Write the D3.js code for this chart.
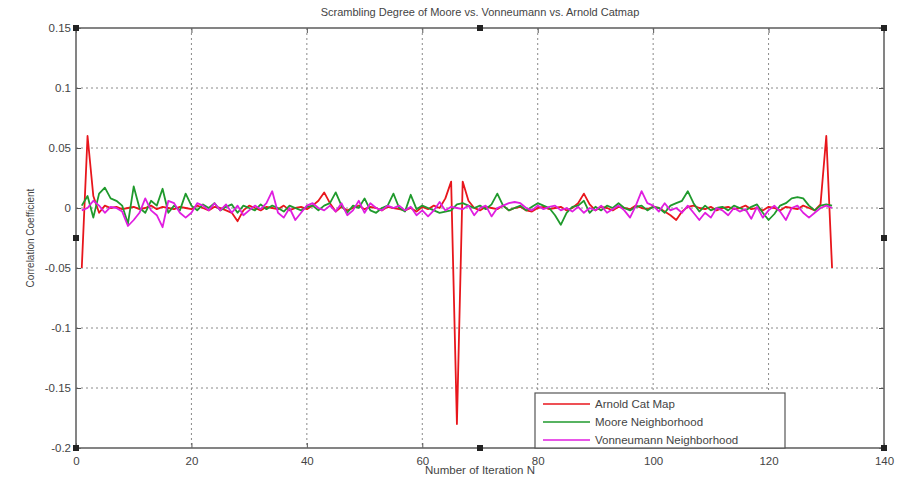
<!DOCTYPE html>
<html lang="en">
<head>
<meta charset="utf-8">
<script src="https://d3js.org/d3.v7.min.js"></script>
<title>Scrambling Degree</title>
<style>
  body { margin: 0; background: #fff; }
  svg text { font-family: "Liberation Sans", Arial, sans-serif; fill: #444; }
</style>
</head>
<body>
<div id="chart"></div>
<script>
// iteration numbers 1..131
const iterations = d3.range(1, 132);

const arnold = [
  -0.05, 0.06, 0.01, -0.004, 0.002, 0.0, 0.001, -0.001, 0.0, 0.001,
  -0.001, 0.0, 0.002, -0.001, 0.001, 0.0, -0.001, 0.001, 0.0, -0.001,
  0.002, 0.0, -0.002, 0.001, 0.0, -0.002, -0.004, -0.011, -0.002, 0.002,
  0.0, -0.002, 0.001, 0.0, -0.001, 0.002, -0.002, 0.0, 0.001, -0.001,
  0.002, 0.006, 0.013, 0.004, -0.003, 0.001, -0.002, 0.0, 0.002, -0.001,
  0.001, 0.0, -0.002, 0.001, 0.0, -0.001, -0.002, 0.0, -0.003, 0.001,
  -0.001, 0.002, 0.0, 0.008, 0.022, -0.18, 0.022, 0.006, 0.0, -0.002,
  0.001, 0.0, -0.001, 0.002, -0.002, 0.0, 0.001, -0.002, -0.003, 0.0,
  0.001, -0.001, 0.0, 0.001, -0.002, 0.0, 0.004, 0.012, 0.003, -0.002,
  0.001, 0.0, -0.002, 0.001, 0.0, -0.001, 0.002, 0.0, -0.001, 0.001,
  0.0, -0.003, -0.006, -0.01, -0.003, 0.001, 0.002, 0.0, -0.001, 0.001,
  -0.002, 0.0, 0.001, -0.001, 0.0, 0.002, -0.001, 0.0, -0.002, 0.001,
  0.0, -0.002, 0.001, 0.0, -0.001, 0.002, 0.0, -0.002, 0.003, 0.06,
  -0.05
];

const moore = [
  0.002, 0.01, -0.008, 0.012, 0.017, 0.008, 0.006, 0.002, -0.013, 0.018,
  0.0, -0.004, 0.006, 0.002, 0.016, -0.004, 0.002, -0.002, 0.012, 0.002,
  -0.002, 0.003, 0.0, 0.004, -0.002, 0.001, 0.003, -0.004, 0.002, 0.0,
  -0.002, 0.003, -0.001, 0.002, 0.0, -0.003, 0.002, 0.0, -0.002, 0.001,
  0.002, -0.002, 0.002, 0.004, 0.013, 0.002, -0.004, 0.002, 0.0, 0.008,
  -0.002, -0.004, 0.0, 0.002, 0.012, 0.0, -0.003, 0.011, -0.001, 0.002,
  0.0, -0.002, -0.004, -0.003, -0.002, 0.003, 0.004, 0.002, 0.0, 0.002,
  -0.001, 0.003, 0.012, 0.002, -0.002, 0.0, 0.002, -0.002, 0.001, 0.004,
  0.002, 0.0, -0.006, -0.014, -0.004, 0.001, 0.002, 0.006, -0.004, 0.001,
  -0.002, 0.002, 0.0, 0.004, 0.0, -0.002, 0.001, 0.002, -0.002, 0.001,
  0.0, -0.004, 0.002, 0.004, 0.006, 0.014, 0.004, -0.003, 0.002, -0.002,
  0.0, 0.001, -0.002, 0.002, 0.0, -0.002, 0.001, 0.003, -0.004, -0.01,
  -0.005, 0.002, 0.004, 0.008, 0.009, 0.008, 0.002, -0.002, 0.002, 0.003,
  0.002
];

const vonneumann = [
  -0.002, 0.0, 0.006, 0.002, -0.004, 0.001, 0.0, -0.003, -0.015, -0.01,
  -0.004, 0.008, -0.002, -0.006, -0.016, 0.006, 0.004, -0.004, -0.008, -0.004,
  0.004, 0.002, -0.002, 0.004, -0.002, 0.003, -0.004, 0.002, -0.006, -0.002,
  0.002, -0.001, 0.004, 0.014, -0.004, -0.008, 0.0, -0.01, -0.004, 0.002,
  0.004, 0.0, -0.002, 0.002, -0.003, 0.004, -0.006, -0.002, 0.006, -0.004,
  0.004, 0.0, -0.002, 0.002, 0.0, 0.002, -0.002, 0.001, -0.006, -0.002,
  -0.007, -0.002, 0.005, -0.002, 0.001, 0.0, -0.001, 0.002, -0.006, 0.0,
  0.002, -0.007, 0.0, 0.002, 0.004, 0.005, 0.004, 0.0, -0.002, 0.002,
  -0.001, 0.001, 0.002, -0.002, 0.0, -0.003, 0.001, -0.004, 0.0, -0.002,
  0.002, -0.004, -0.001, 0.002, -0.002, -0.008, 0.002, 0.014, 0.004, 0.002,
  -0.003, 0.004, -0.002, 0.0, -0.004, 0.002, -0.004, -0.01, -0.004, -0.008,
  0.0, -0.002, -0.006, 0.0, -0.003, -0.001, -0.009, 0.001, -0.008, -0.002,
  0.002, -0.003, -0.01, 0.0, 0.002, -0.004, -0.008, -0.004, 0.0, 0.002,
  0.0
];

const seriesNames = ["Arnold Cat Map", "Moore Neighborhood", "Vonneumann Neighborhood"];
const seriesColors = ["#e8161c", "#1f9a2c", "#e01ee0"];
const xTicks = [0, 20, 40, 60, 80, 100, 120, 140];
const yTicks = [-0.2, -0.15, -0.1, -0.05, 0, 0.05, 0.1, 0.15];

const W = 897, H = 482;
const m = { left: 76, right: 13, top: 28, bottom: 34 };

const svg = d3.select("#chart").append("svg").attr("width", W).attr("height", H);

const x = d3.scaleLinear().domain([0, 140]).range([m.left, W - m.right]);
const y = d3.scaleLinear().domain([-0.2, 0.15]).range([H - m.bottom, m.top]);

// grid
const grid = svg.append("g").attr("stroke", "#8a8a8a").attr("stroke-width", 1).attr("stroke-dasharray", "2,3");
grid.selectAll(".vg").data(xTicks.slice(1, -1)).enter().append("line")
  .attr("x1", d => x(d)).attr("x2", d => x(d)).attr("y1", y(0.15)).attr("y2", y(-0.2));
grid.selectAll(".hg").data(yTicks.slice(1, -1)).enter().append("line")
  .attr("x1", x(0)).attr("x2", x(140)).attr("y1", d => y(d)).attr("y2", d => y(d));

// lines
const line = d3.line().x((d, i) => x(iterations[i])).y(d => y(d));
[arnold, moore, vonneumann].forEach((s, k) => {
  svg.append("path").datum(s)
    .attr("fill", "none").attr("stroke", seriesColors[k])
    .attr("stroke-width", 1.8).attr("stroke-linejoin", "round")
    .attr("d", line);
});

// axes (ticks inward, MATLAB-like)
const xAxis = svg.append("g").attr("transform", `translate(0,${y(-0.2)})`)
  .call(d3.axisBottom(x).tickValues(xTicks).tickSize(-5).tickPadding(9).tickFormat(d3.format("d")));
const yAxis = svg.append("g").attr("transform", `translate(${x(0)},0)`)
  .call(d3.axisLeft(y).tickValues(yTicks).tickSize(-5).tickPadding(5).tickFormat(d => d === 0 ? "0" : String(+d.toFixed(2))));
[xAxis, yAxis].forEach(a => {
  a.select(".domain").remove();
  a.selectAll("line").attr("stroke", "#555");
  a.selectAll("text").attr("font-size", 11.5).style("fill", "#444");
});
svg.append("g").attr("transform", `translate(0,${y(0.15)})`)
  .call(d3.axisTop(x).tickValues(xTicks).tickSize(-5).tickFormat(""))
  .call(g => g.select(".domain").remove())
  .selectAll("line").attr("stroke", "#555");
svg.append("g").attr("transform", `translate(${x(140)},0)`)
  .call(d3.axisRight(y).tickValues(yTicks).tickSize(-5).tickFormat(""))
  .call(g => g.select(".domain").remove())
  .selectAll("line").attr("stroke", "#555");

// box
svg.append("rect")
  .attr("x", x(0)).attr("y", y(0.15))
  .attr("width", x(140) - x(0)).attr("height", y(-0.2) - y(0.15))
  .attr("fill", "none").attr("stroke", "#666").attr("stroke-width", 1.6);

// selection handles
const hx = [0, 70, 140], hy = [-0.2, -0.025, 0.15];
const handles = [];
hx.forEach(a => hy.forEach(b => { if (!(a === 70 && b === -0.025)) handles.push([a, b]); }));
svg.selectAll(".handle").data(handles).enter().append("rect")
  .attr("x", d => x(d[0]) - 3).attr("y", d => y(d[1]) - 3)
  .attr("width", 6).attr("height", 6).attr("fill", "#222");

// title & labels
svg.append("text").attr("x", 480).attr("y", 16).attr("text-anchor", "middle")
  .attr("font-size", 11).text("Scrambling Degree of Moore vs. Vonneumann vs. Arnold Catmap");
svg.append("text").attr("x", 480).attr("y", 474).attr("text-anchor", "middle")
  .attr("font-size", 11.5).text("Number of Iteration N");
svg.append("text").attr("transform", `translate(34,${(y(0.15) + y(-0.2)) / 2}) rotate(-90)`)
  .attr("text-anchor", "middle").attr("font-size", 10).text("Correlation Coefficient");

// legend
const lg = svg.append("g").attr("transform", "translate(535,393)");
lg.append("rect").attr("width", 250).attr("height", 55)
  .attr("fill", "#fff").attr("stroke", "#555").attr("stroke-width", 1.2);
seriesNames.forEach((n, i) => {
  const yy = 11 + i * 18;
  lg.append("line").attr("x1", 8).attr("x2", 55).attr("y1", yy).attr("y2", yy)
    .attr("stroke", seriesColors[i]).attr("stroke-width", 1.6);
  lg.append("text").attr("x", 60).attr("y", yy + 4).attr("font-size", 11.5).text(n);
});
</script>
</body>
</html>
